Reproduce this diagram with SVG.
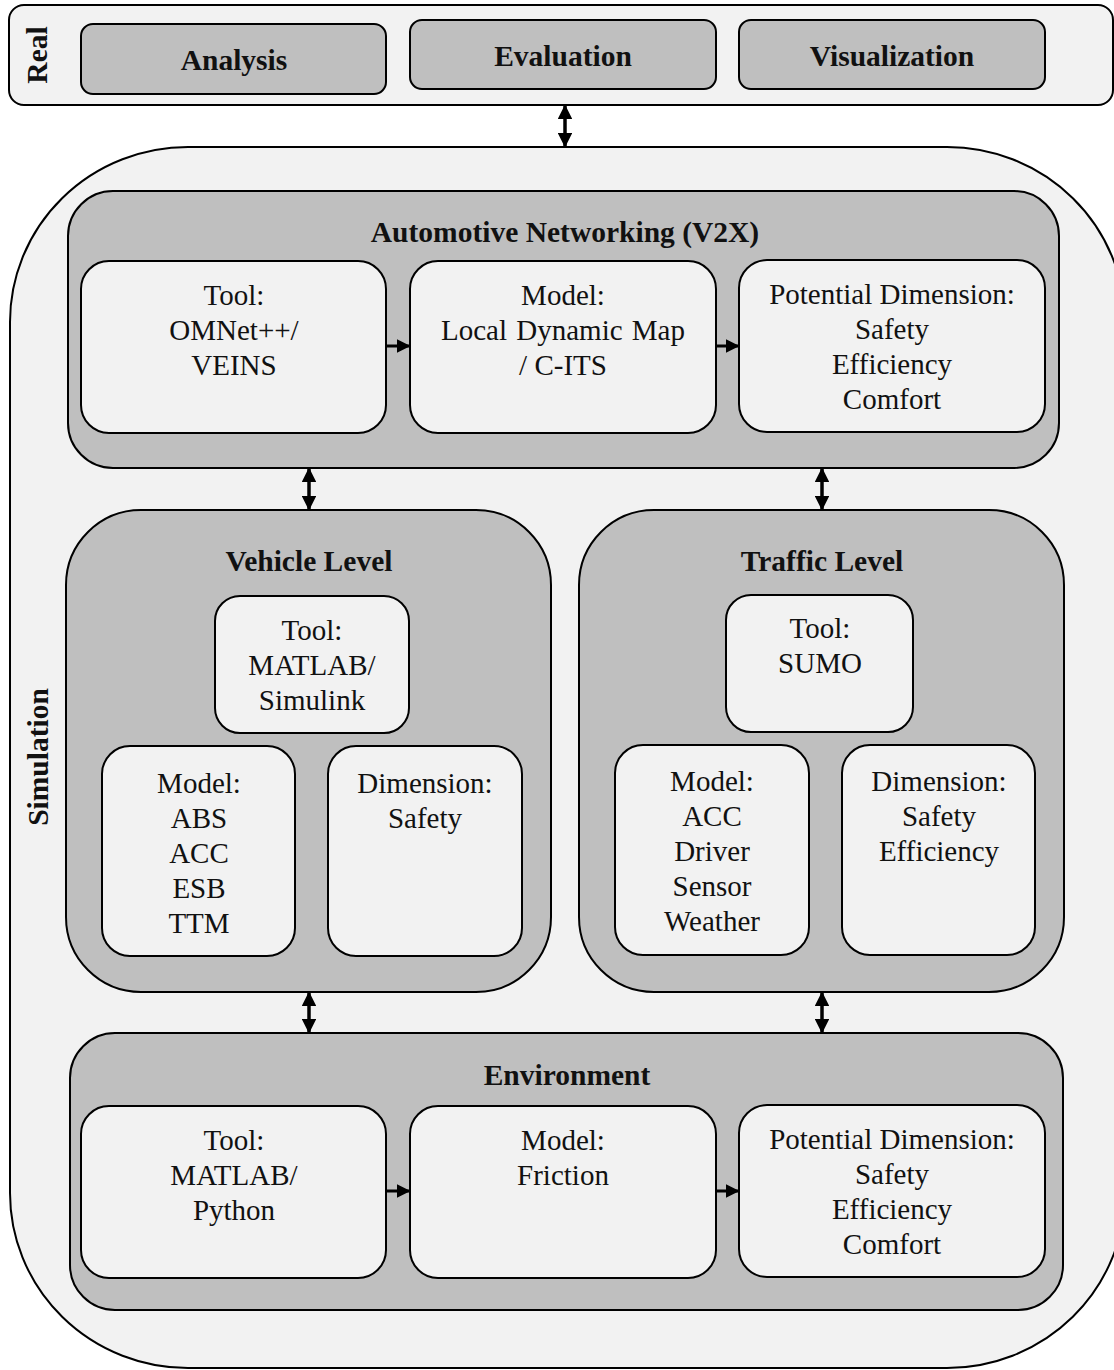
<svg xmlns="http://www.w3.org/2000/svg" width="1114" height="1370" viewBox="0 0 1114 1370">
  <style>
    .light { fill: #f2f2f2; stroke: #000; stroke-width: 2; }
    .grey { fill: #bfbfbf; stroke: #000; stroke-width: 2; }
    text { font-family: 'Liberation Serif', Tinos, 'Times New Roman', Times, 'DejaVu Serif', serif; fill: #111; text-anchor: middle; }
    .t { font-size: 29px; }
    .h { font-size: 29.5px; font-weight: bold; }
    .conn { stroke: #000; fill: none; }
  </style>
  <defs>
    <marker id="head" viewBox="0 0 10 10" refX="9" refY="5" markerWidth="4.2" markerHeight="4.2" orient="auto-start-reverse" markerUnits="strokeWidth">
      <path d="M0,0 L10,5 L0,10 Z" fill="#000"/>
    </marker>
    <marker id="headS" viewBox="0 0 10 10" refX="9" refY="5" markerWidth="4.5" markerHeight="4.5" orient="auto" markerUnits="strokeWidth">
      <path d="M0,0 L10,5 L0,10 Z" fill="#000"/>
    </marker>
  </defs>

  <rect width="1114" height="1370" fill="#fff"/>

  <!-- Real layer -->
  <g id="real">
    <rect class="light" x="9" y="5" width="1104" height="100" rx="15"/>
    <text class="h" transform="translate(47 55) rotate(-90)">Real</text>
  </g>
  <g id="analysis">
    <rect class="grey" x="81" y="24" width="305" height="70" rx="12"/>
    <text class="h" x="234" y="70">Analysis</text>
  </g>
  <g id="evaluation">
    <rect class="grey" x="410" y="20" width="306" height="69" rx="12"/>
    <text class="h" x="563" y="66">Evaluation</text>
  </g>
  <g id="visualization">
    <rect class="grey" x="739" y="20" width="306" height="69" rx="12"/>
    <text class="h" x="892" y="66">Visualization</text>
  </g>

  <!-- Simulation layer -->
  <g id="simulation">
    <rect class="light" x="10" y="147" width="1115" height="1221" rx="178" ry="175"/>
    <text class="h" transform="translate(48 757) rotate(-90)">Simulation</text>
  </g>

  <!-- Automotive networking -->
  <g id="v2x">
    <rect class="grey" x="68" y="191" width="991" height="277" rx="45"/>
    <text class="h" x="565" y="242">Automotive Networking (V2X)</text>
  </g>
  <g id="v2x-tool">
    <rect class="light" x="81" y="261" width="305" height="172" rx="28"/>
    <text class="t" x="234" y="305">Tool:</text>
    <text class="t" x="234" y="340">OMNet++/</text>
    <text class="t" x="234" y="375">VEINS</text>
  </g>
  <g id="v2x-model">
    <rect class="light" x="410" y="261" width="306" height="172" rx="28"/>
    <text class="t" x="563" y="305">Model:</text>
    <text class="t" x="563" y="340" word-spacing="2">Local Dynamic Map</text>
    <text class="t" x="563" y="375">/ C-ITS</text>
  </g>
  <g id="v2x-dimension">
    <rect class="light" x="739" y="260" width="306" height="172" rx="28"/>
    <text class="t" x="892" y="304">Potential Dimension:</text>
    <text class="t" x="892" y="339">Safety</text>
    <text class="t" x="892" y="374">Efficiency</text>
    <text class="t" x="892" y="409">Comfort</text>
  </g>

  <!-- Vehicle level -->
  <g id="vehicle">
    <rect class="grey" x="66" y="510" width="485" height="482" rx="75"/>
    <text class="h" x="309" y="571">Vehicle Level</text>
  </g>
  <g id="vehicle-tool">
    <rect class="light" x="215" y="596" width="194" height="137" rx="25"/>
    <text class="t" x="312" y="640">Tool:</text>
    <text class="t" x="312" y="675">MATLAB/</text>
    <text class="t" x="312" y="710">Simulink</text>
  </g>
  <g id="vehicle-model">
    <rect class="light" x="102" y="746" width="193" height="210" rx="28"/>
    <text class="t" x="199" y="793">Model:</text>
    <text class="t" x="199" y="828">ABS</text>
    <text class="t" x="199" y="863">ACC</text>
    <text class="t" x="199" y="898">ESB</text>
    <text class="t" x="199" y="933">TTM</text>
  </g>
  <g id="vehicle-dimension">
    <rect class="light" x="328" y="746" width="194" height="210" rx="28"/>
    <text class="t" x="425" y="793">Dimension:</text>
    <text class="t" x="425" y="828">Safety</text>
  </g>

  <!-- Traffic level -->
  <g id="traffic">
    <rect class="grey" x="579" y="510" width="485" height="482" rx="75"/>
    <text class="h" x="822" y="571">Traffic Level</text>
  </g>
  <g id="traffic-tool">
    <rect class="light" x="726" y="595" width="187" height="137" rx="25"/>
    <text class="t" x="820" y="638">Tool:</text>
    <text class="t" x="820" y="673">SUMO</text>
  </g>
  <g id="traffic-model">
    <rect class="light" x="615" y="745" width="194" height="210" rx="28"/>
    <text class="t" x="712" y="791">Model:</text>
    <text class="t" x="712" y="826">ACC</text>
    <text class="t" x="712" y="861">Driver</text>
    <text class="t" x="712" y="896">Sensor</text>
    <text class="t" x="712" y="931">Weather</text>
  </g>
  <g id="traffic-dimension">
    <rect class="light" x="842" y="745" width="193" height="210" rx="28"/>
    <text class="t" x="939" y="791">Dimension:</text>
    <text class="t" x="939" y="826">Safety</text>
    <text class="t" x="939" y="861">Efficiency</text>
  </g>

  <!-- Environment -->
  <g id="environment">
    <rect class="grey" x="70" y="1033" width="993" height="277" rx="45"/>
    <text class="h" x="567" y="1085">Environment</text>
  </g>
  <g id="env-tool">
    <rect class="light" x="81" y="1106" width="305" height="172" rx="28"/>
    <text class="t" x="234" y="1150">Tool:</text>
    <text class="t" x="234" y="1185">MATLAB/</text>
    <text class="t" x="234" y="1220">Python</text>
  </g>
  <g id="env-model">
    <rect class="light" x="410" y="1106" width="306" height="172" rx="28"/>
    <text class="t" x="563" y="1150">Model:</text>
    <text class="t" x="563" y="1185">Friction</text>
  </g>
  <g id="env-dimension">
    <rect class="light" x="739" y="1105" width="306" height="172" rx="28"/>
    <text class="t" x="892" y="1149">Potential Dimension:</text>
    <text class="t" x="892" y="1184">Safety</text>
    <text class="t" x="892" y="1219">Efficiency</text>
    <text class="t" x="892" y="1254">Comfort</text>
  </g>

  <!-- Connectors -->
  <g id="connectors">
    <!-- two-way links between layers -->
    <line class="conn" x1="565" y1="106" x2="565" y2="146" stroke-width="3.5" marker-start="url(#head)" marker-end="url(#head)"/>
    <line class="conn" x1="309" y1="469" x2="309" y2="509" stroke-width="3.5" marker-start="url(#head)" marker-end="url(#head)"/>
    <line class="conn" x1="822" y1="469" x2="822" y2="509" stroke-width="3.5" marker-start="url(#head)" marker-end="url(#head)"/>
    <line class="conn" x1="309" y1="993" x2="309" y2="1032" stroke-width="3.5" marker-start="url(#head)" marker-end="url(#head)"/>
    <line class="conn" x1="822" y1="993" x2="822" y2="1032" stroke-width="3.5" marker-start="url(#head)" marker-end="url(#head)"/>
    <!-- flow inside rows -->
    <line class="conn" x1="387" y1="346" x2="409" y2="346" stroke-width="3" marker-end="url(#headS)"/>
    <line class="conn" x1="717" y1="346" x2="738" y2="346" stroke-width="3" marker-end="url(#headS)"/>
    <line class="conn" x1="387" y1="1191" x2="409" y2="1191" stroke-width="3" marker-end="url(#headS)"/>
    <line class="conn" x1="717" y1="1191" x2="738" y2="1191" stroke-width="3" marker-end="url(#headS)"/>
  </g>
</svg>
